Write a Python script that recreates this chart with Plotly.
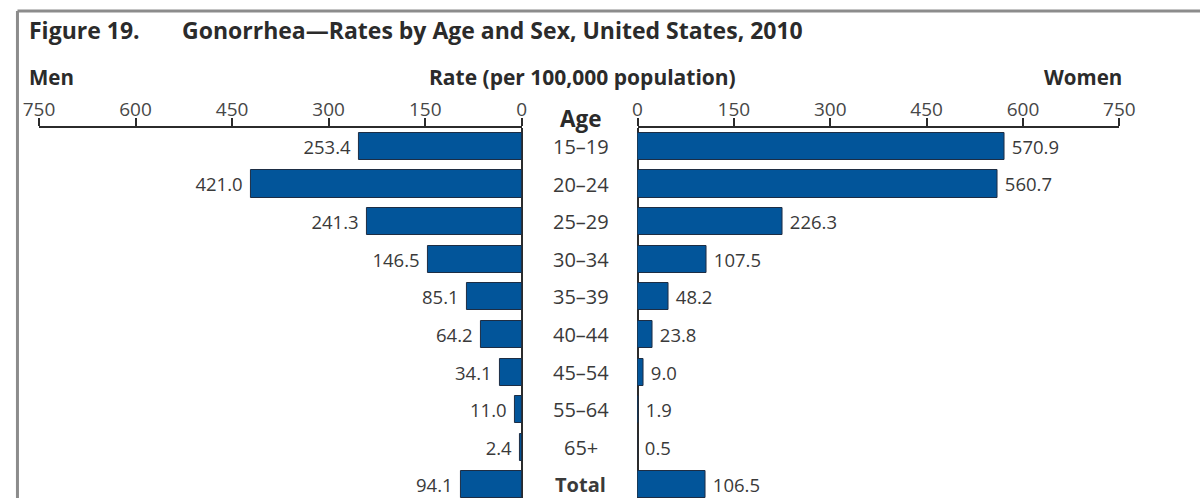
import plotly.graph_objects as go

# Gonorrhea rates per 100,000 population, United States, 2010
age_groups = ["15–19", "20–24", "25–29", "30–34", "35–39", "40–44",
              "45–54", "55–64", "65+", "Total"]
men_rates = [253.4, 421.0, 241.3, 146.5, 85.1, 64.2, 34.1, 11.0, 2.4, 94.1]
women_rates = [570.9, 560.7, 226.3, 107.5, 48.2, 23.8, 9.0, 1.9, 0.5, 106.5]
tick_values = [0, 150, 300, 450, 600, 750]

FIG_W, H = 1216, 498
# horizontal page positions (px) -> paper fraction of the figure
PAGE_X0, PAGE_SCALE = 14.0, 0.976
FONT = "Open Sans"
BAR_FILL = "#02559a"
BAR_EDGE = "#1d2d44"
INK = "#2b2b2b"
LABEL_INK = "#3a3a3a"
NBSP = "\u00a0"


def px(x):
    return (x - PAGE_X0) / PAGE_SCALE / FIG_W


def py(y):
    return 1 - y / H


bar_style = dict(
    orientation="h",
    width=0.72,
    marker=dict(color=BAR_FILL, line=dict(color=BAR_EDGE, width=1)),
    textposition="outside",
    constraintext="none",
    cliponaxis=False,
    textfont=dict(family=FONT, size=18.5, color=LABEL_INK),
    hoverinfo="skip",
    showlegend=False,
)

fig = go.Figure()
fig.add_trace(go.Bar(
    y=age_groups, x=men_rates, xaxis="x", yaxis="y",
    text=[f"{v:.1f}{NBSP}" for v in men_rates], **bar_style))
fig.add_trace(go.Bar(
    y=age_groups, x=women_rates, xaxis="x2", yaxis="y",
    text=[f"{NBSP}{v:.1f}" for v in women_rates], **bar_style))

axis_common = dict(
    side="top",
    anchor="y",
    tickmode="array",
    tickvals=tick_values,
    ticktext=[str(v) for v in tick_values],
    ticks="outside",
    ticklen=8,
    tickwidth=1.5,
    tickcolor=INK,
    ticklabelstandoff=-5,
    showline=True,
    linecolor=INK,
    linewidth=1.5,
    showgrid=False,
    zeroline=True,
    zerolinecolor=INK,
    zerolinewidth=1.5,
    tickfont=dict(family=FONT, size=19, color="#474747"),
    fixedrange=True,
)

fig.update_layout(
    width=FIG_W,
    height=H,
    margin=dict(l=0, r=0, t=0, b=0),
    paper_bgcolor="white",
    plot_bgcolor="white",
    bargap=0,
    xaxis=dict(domain=[px(37), px(521)], range=[750, 0], **axis_common),
    xaxis2=dict(domain=[px(637), px(1120)], range=[0, 750], **axis_common),
    yaxis=dict(
        domain=[0, py(128)],
        type="category",
        categoryorder="array",
        categoryarray=age_groups,
        range=[9.35, -0.49],
        showticklabels=False,
        showgrid=False,
        zeroline=False,
        showline=False,
        ticks="",
        fixedrange=True,
    ),
)

annotations = [
    dict(text="<b>Figure 19.</b>", x=px(25), y=py(30), xanchor="left",
         font=dict(size=23, color=INK)),
    dict(text="<b>Gonorrhea—Rates by Age and Sex, United States, 2010</b>",
         x=px(178), y=py(30), xanchor="left", font=dict(size=23, color=INK)),
    dict(text="<b>Men</b>", x=px(25), y=py(77), xanchor="left",
         font=dict(size=20.5, color=INK)),
    dict(text="<b>Rate (per 100,000 population)</b>", x=px(582), y=py(77),
         xanchor="center", font=dict(size=21, color=INK)),
    dict(text="<b>Women</b>", x=px(1125), y=py(77), xanchor="right",
         font=dict(size=20.5, color=INK)),
    dict(text="<b>Age</b>", x=px(580), y=py(118), xanchor="center",
         font=dict(size=22.5, color=INK)),
]
for a in annotations:
    a.update(xref="paper", yref="paper", yanchor="middle", showarrow=False)
    a["font"]["family"] = FONT

# Age-group labels in the gap between the two halves
for g in age_groups:
    label = f"<b>{g}</b>" if g == "Total" else g
    annotations.append(dict(
        text=label, x=px(580), xref="paper", y=g, yref="y",
        xanchor="center", yanchor="middle", showarrow=False,
        font=dict(family=FONT, size=20, color=LABEL_INK)))

fig.update_layout(annotations=annotations)

# Grey frame along the top and left edges
frame = dict(color="#8c8c8c", width=3)
edge = 1.5 / FIG_W
fig.add_shape(type="line", xref="paper", yref="paper",
              x0=edge, x1=1, y0=py(11), y1=py(11), line=frame)
fig.add_shape(type="line", xref="paper", yref="paper",
              x0=edge, x1=edge, y0=0, y1=py(11), line=frame)

fig.write_html("out.html")
